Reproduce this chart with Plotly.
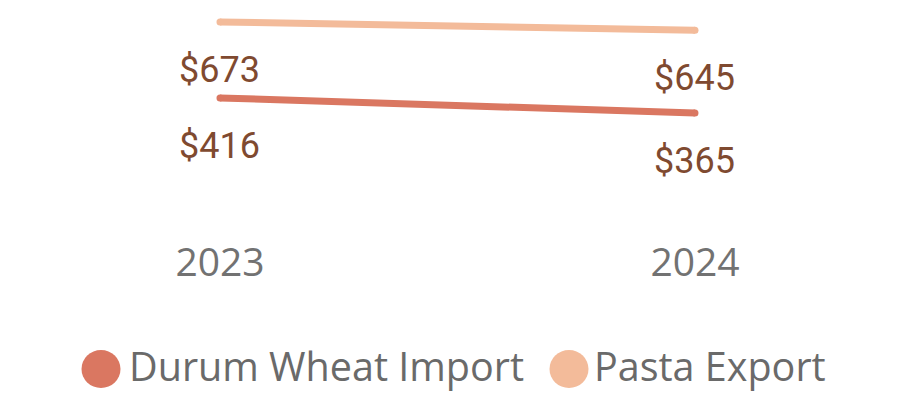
import plotly.graph_objects as go

years = ["2023", "2024"]
series_names = ["Durum Wheat Import", "Pasta Export"]
durum_import = [416, 365]
pasta_export = [673, 645]
series_values = [durum_import, pasta_export]
series_colors = ["#DA7761", "#F3BB9A"]

label_color = "#7F4A30"
axis_text_color = "#727272"
legend_text_color = "#6A6A6A"

W, H = 892, 394
B = 181
PH = H - B  # plot area height in px

fig = go.Figure()
for name, vals, col in zip(series_names, series_values, series_colors):
    fig.add_trace(go.Scatter(
        x=years, y=vals, name=name, mode="lines+markers",
        line=dict(color=col, width=7),
        marker=dict(color=col, size=7),
        showlegend=False, hoverinfo="skip",
    ))
    for i, yv in enumerate(vals):
        fig.add_annotation(
            x=i, y=yv, xref="x", yref="y", text=f"${yv}", showarrow=False, yshift=-48,
            font=dict(family="DIN, Roboto, sans-serif", size=36, color=label_color),
            xanchor="center", yanchor="middle",
        )

# manual legend with large circle symbols (positions in figure px -> paper)
def px_x(v):
    return v / W

def px_y(v):
    return (PH - v) / PH

legend_items = [(93, 119), (561, 584)]
for (cx, tx), name, col in zip(legend_items, series_names, series_colors):
    rx, ry = 19.5, 19
    cy = 361
    fig.add_shape(type="circle", xref="paper", yref="paper",
                  x0=px_x(cx - rx), x1=px_x(cx + rx),
                  y0=px_y(cy + ry), y1=px_y(cy - ry),
                  fillcolor=col, line=dict(width=0))
    fig.add_annotation(xref="paper", yref="paper", x=px_x(tx), y=px_y(358),
                       text=name, showarrow=False, xanchor="left", yanchor="middle",
                       font=dict(family="Segoe UI, Open Sans, sans-serif", size=39.5,
                                 color=legend_text_color))

fig.update_layout(
    width=W, height=H,
    margin=dict(l=0, r=0, t=0, b=B),
    paper_bgcolor="white", plot_bgcolor="white",
    xaxis=dict(type="category", range=[-0.4463, 1.4316], showgrid=False,
               zeroline=False, showline=False, ticks="",
               ticklabelstandoff=15,
               tickfont=dict(family="Segoe UI, Open Sans, sans-serif", size=39,
                             color=axis_text_color)),
    yaxis=dict(range=[0, 720], visible=False, showgrid=False, zeroline=False),
)

fig.write_html("out.html")
